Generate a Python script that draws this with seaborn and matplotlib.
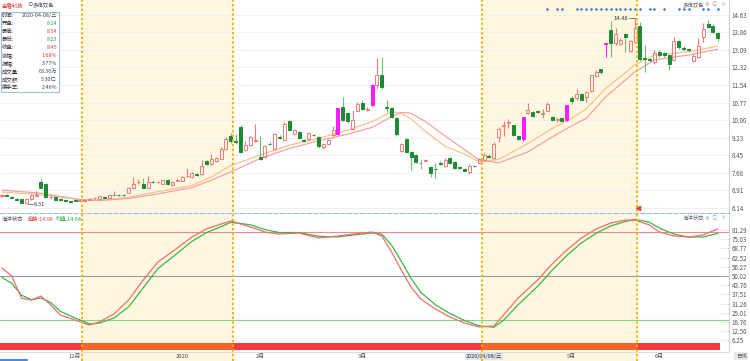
import numpy as np
import seaborn as sns
import matplotlib.pyplot as plt
from matplotlib.lines import Line2D
from matplotlib.patches import Rectangle

# dados diarios (OHLC)
opens = [6.68, 6.72, 6.63, 6.52, 6.52, 6.36, 6.52, 6.68, 7.28, 7.18,
         6.60, 6.62, 6.52, 6.48, 6.43, 6.48, 6.46, 6.43, 6.49, 6.55,
         6.52, 6.61, 6.58, 6.70, 6.72, 6.71, 6.80, 7.00, 7.26, 7.20,
         7.03, 7.29, 7.27, 7.20, 7.35, 7.15, 7.34, 7.33, 7.54, 7.50,
         7.62, 7.62, 8.20, 8.06, 8.20, 8.30, 8.75, 9.30, 9.07, 9.68,
         8.68, 8.90, 9.08, 8.36, 8.38, 8.97, 8.75, 9.26, 9.12, 9.97,
         9.38, 9.47, 9.12, 9.17, 9.35, 9.24, 8.80, 8.97, 9.34, 9.38,
         10.59, 10.30, 9.63, 10.41, 10.75, 10.45, 10.66, 11.54, 11.98, 10.56,
         10.52, 10.08, 8.65, 9.15, 8.60, 8.46, 8.09, 8.22, 7.94, 7.86,
         8.12, 7.98, 8.33, 8.15, 7.92, 7.85, 7.70, 8.00, 8.13, 8.24,
         8.42, 8.35, 9.26, 9.76, 9.89, 9.78, 9.30, 9.19, 10.30, 10.35,
         10.39, 10.29, 10.41, 10.15, 10.02, 10.08, 10.00, 10.98, 10.98, 11.15,
         11.00, 11.30, 11.94, 12.23, 13.36, 13.97, 13.38, 13.36, 13.78, 13.06,
         13.43, 14.14, 12.74, 12.67, 12.57, 12.98, 12.95, 12.87, 12.65, 13.50,
         13.17, 13.12, 12.60, 12.77, 13.67, 14.23, 14.16, 13.82]
highs = [6.76, 6.75, 6.66, 6.55, 6.54, 6.55, 6.74, 6.86, 7.42, 7.22,
         6.70, 6.65, 6.55, 6.52, 6.46, 6.52, 6.50, 6.50, 6.55, 6.61,
         6.67, 6.65, 6.72, 6.90, 6.76, 6.75, 7.06, 7.50, 7.40, 7.45,
         7.55, 7.36, 7.34, 7.38, 7.40, 7.32, 7.45, 7.55, 7.90, 7.72,
         7.68, 8.25, 8.26, 8.50, 8.38, 8.80, 9.25, 9.45, 9.40, 9.80,
         9.10, 9.30, 9.85, 9.30, 8.90, 9.05, 9.45, 9.35, 9.90, 10.02,
         9.62, 9.52, 9.16, 9.46, 9.40, 9.30, 9.00, 9.16, 9.72, 10.55,
         11.03, 10.35, 10.45, 10.78, 10.90, 10.58, 11.58, 12.73, 12.80, 10.90,
         10.60, 10.12, 9.00, 9.20, 8.65, 8.50, 8.30, 8.30, 8.00, 8.10,
         8.20, 8.32, 8.36, 8.18, 7.96, 7.88, 8.05, 8.04, 8.32, 8.54,
         8.50, 9.05, 9.70, 9.95, 10.05, 9.80, 9.33, 10.15, 10.75, 10.40,
         10.45, 10.50, 10.78, 10.20, 10.10, 10.12, 10.68, 11.05, 11.35, 11.20,
         11.28, 12.00, 12.20, 12.26, 13.40, 14.38, 14.05, 13.62, 13.85, 13.55,
         14.48, 14.30, 13.30, 12.72, 13.10, 13.10, 13.00, 12.92, 13.65, 13.55,
         13.25, 13.18, 12.90, 13.60, 14.26, 14.40, 14.22, 13.88]
lows = [6.62, 6.64, 6.55, 6.46, 6.33, 6.31, 6.50, 6.64, 7.00, 6.58,
        6.52, 6.47, 6.46, 6.43, 6.37, 6.43, 6.42, 6.41, 6.47, 6.53,
        6.50, 6.56, 6.56, 6.64, 6.66, 6.66, 6.78, 6.98, 7.20, 7.00,
        7.00, 7.22, 7.22, 7.17, 7.15, 7.12, 7.30, 7.30, 7.48, 7.47,
        7.52, 7.58, 8.02, 8.02, 8.15, 8.27, 8.70, 9.00, 8.95, 8.55,
        8.62, 8.85, 9.02, 8.25, 8.33, 8.90, 8.70, 9.18, 9.08, 9.50,
        9.33, 9.15, 9.04, 9.12, 9.28, 8.78, 8.72, 8.94, 9.30, 9.36,
        9.95, 9.88, 9.58, 10.38, 10.45, 10.40, 10.62, 11.40, 11.35, 10.35,
        10.10, 9.30, 8.60, 8.55, 7.82, 8.10, 7.85, 8.18, 7.50, 7.45,
        8.02, 7.95, 8.05, 7.86, 7.85, 7.74, 7.62, 7.94, 8.10, 8.23,
        8.35, 8.30, 9.05, 9.30, 9.65, 9.30, 9.12, 9.10, 10.25, 10.15,
        10.30, 10.10, 10.38, 9.95, 9.92, 9.95, 9.95, 10.70, 10.90, 10.85,
        10.80, 11.25, 11.90, 12.05, 12.80, 12.77, 13.30, 13.30, 13.00, 13.00,
        13.38, 12.60, 12.10, 12.58, 12.45, 12.80, 12.80, 12.20, 12.60, 13.15,
        13.05, 13.02, 12.55, 12.72, 13.45, 14.05, 13.85, 13.50]
closes = [6.70, 6.67, 6.58, 6.48, 6.36, 6.52, 6.70, 6.70, 7.03, 6.62,
          6.62, 6.50, 6.49, 6.46, 6.40, 6.46, 6.47, 6.48, 6.53, 6.59,
          6.65, 6.59, 6.69, 6.72, 6.70, 6.69, 7.03, 7.18, 7.29, 7.03,
          7.28, 7.27, 7.29, 7.35, 7.18, 7.28, 7.36, 7.50, 7.56, 7.67,
          7.58, 7.97, 8.06, 8.28, 8.33, 8.75, 9.19, 9.09, 9.05, 8.60,
          8.90, 9.26, 9.12, 8.28, 8.85, 8.93, 9.38, 9.22, 9.85, 9.56,
          9.56, 9.20, 9.08, 9.42, 9.33, 8.85, 8.97, 9.13, 9.56, 10.52,
          10.00, 9.95, 10.00, 10.70, 10.50, 10.47, 11.54, 11.98, 11.47, 10.54,
          10.15, 9.38, 8.97, 8.60, 8.38, 8.16, 8.09, 8.25, 7.68, 7.84,
          8.08, 8.24, 8.10, 7.90, 7.88, 7.78, 7.97, 7.97, 8.28, 8.45,
          8.39, 8.97, 9.63, 9.79, 9.91, 9.34, 9.17, 10.12, 10.44, 10.20,
          10.37, 10.31, 10.70, 10.00, 10.05, 9.98, 10.66, 10.84, 11.15, 10.90,
          11.25, 11.98, 12.13, 12.10, 13.40, 13.41, 13.79, 13.55, 13.65, 13.48,
          14.07, 12.68, 12.70, 12.63, 12.94, 12.85, 12.85, 12.47, 13.50, 13.21,
          13.14, 13.08, 12.82, 13.28, 14.00, 14.11, 13.90, 13.60]
magenta_idx = [69, 76, 107, 116, 124]
gray_idx = [86]

# medias (curvas laranja e rosa)
ma_idx = [0, 8, 16, 20, 26, 32, 39, 43, 47, 53, 59, 65, 71, 76, 80, 82, 84, 87,
          91, 95, 98, 102, 108, 113, 117, 120, 124, 130, 134, 141, 147]
ma_curta = [6.83, 6.72, 6.50, 6.48, 6.60, 6.85, 7.12, 7.50, 8.00, 8.46, 8.90, 9.19,
            9.56, 9.93, 10.37, 10.30, 10.05, 9.49, 8.85, 8.50, 8.16, 8.27, 8.97,
            9.63, 10.08, 10.50, 11.40, 12.43, 12.87, 13.01, 13.26]
ma_longa = [6.92, 6.78, 6.50, 6.46, 6.55, 6.75, 7.03, 7.35, 7.72, 8.31, 8.75, 9.09,
            9.38, 9.68, 10.15, 10.34, 10.30, 9.93, 9.30, 8.70, 8.24, 8.12, 8.60,
            9.26, 9.75, 10.08, 11.03, 12.13, 12.65, 12.87, 13.12]

# indicador "海洋状态"
ind_idx = [0, 2, 4, 6, 8, 10, 12, 15, 18, 20, 23, 26, 29, 32, 36, 39, 42, 45, 47,
           51, 54, 57, 61, 65, 69, 72, 76, 78, 80, 82, 84, 86, 89, 92, 95, 98, 101,
           103, 106, 110, 113, 116, 119, 122, 125, 128, 130, 133, 135, 138, 141,
           144, 147]
tendencia = [55.4, 50.0, 35.0, 33.7, 36.4, 30.3, 23.5, 20.1, 16.7, 18.8, 24.2, 33.7,
             47.3, 59.5, 69.0, 76.5, 82.0, 85.3, 87.4, 83.3, 79.9, 78.5, 79.2, 75.8,
             77.2, 78.5, 79.9, 77.2, 66.3, 54.1, 42.5, 34.4, 27.6, 22.1, 18.1, 15.4,
             16.0, 23.5, 35.0, 47.3, 58.2, 67.7, 75.8, 81.9, 86.0, 88.0, 88.0, 84.6,
             79.9, 77.2, 76.5, 77.9, 82.0]
media = [49.0, 45.0, 37.0, 34.0, 35.0, 32.0, 26.0, 21.5, 17.5, 18.0, 21.5, 29.0,
         42.0, 55.0, 65.5, 73.5, 79.5, 83.5, 86.5, 84.8, 81.5, 79.5, 79.5, 77.0,
         76.5, 77.8, 79.2, 78.5, 71.0, 60.0, 48.5, 39.0, 30.5, 24.5, 19.8, 16.2,
         15.2, 20.0, 30.5, 43.0, 54.0, 64.0, 72.5, 79.0, 84.0, 87.0, 88.5, 86.5,
         82.5, 78.5, 76.5, 76.5, 79.0]

sinais_idx = [112, 114, 115, 118, 119, 120, 121, 122, 123, 124, 125, 126, 127, 128,
              129, 130, 131, 133, 134, 136, 139, 140, 141, 144, 145, 147]

yt_preco = ['14.63', '13.86', '13.09', '12.32', '11.54', '10.77', '10.00', '9.23',
            '8.45', '7.68', '6.91', '6.14']
yt_ind = ['81.29', '75.03', '68.77', '62.52', '56.27', '50.02', '43.76', '37.51',
          '31.26', '25.01', '18.76', '12.50', '6.25']
xt_pos = [15, 37, 53, 74, 117, 135]
xt_lab = ['12月', '2020', '2月', '3月', '5月', '6月']
faixas = [(16.5, 47.5), (98.5, 130.5)]

info_lab = ['时间:', '开盘:', '最高:', '最低:', '收盘:', '涨幅:', '振幅:', '成交量:', '成交额:', '换手率:']
info_val = ['2020-04-08/三', '8.24', '8.54', '8.23', '8.45', '1.68%', '3.77%', '63.36万', '5.30亿', '2.46%']

VERMELHO = '#f07a78'
VERDE = '#1c8a36'
MAGENTA = '#ff1aff'
AMARELO = '#fff7e0'

sns.set_style("white")
plt.rcParams['font.family'] = ['Noto Sans CJK SC', 'DejaVu Sans']
plt.rcParams['axes.unicode_minus'] = False

W, H = 750, 361
fig = plt.figure(figsize=(7.5, 3.61), dpi=100)
ax1 = fig.add_axes([0, (H - 213) / H, 729 / W, 213 / H])
ax2 = fig.add_axes([0, (H - 352) / H, 729 / W, 139 / H])
xmin, xmax = -0.41, 149.3

n = len(closes)
idx = np.arange(n)

# fundo amarelo das faixas selecionadas
for a, b in faixas:
    ax1.axvspan(a, b, color=AMARELO, zorder=0, lw=0)
    ax2.axvspan(a, b, color=AMARELO, zorder=0, lw=0)

# candles
for i in idx:
    o, h, l, c = opens[i], highs[i], lows[i], closes[i]
    if i in magenta_idx:
        cor, fundo, pavio = MAGENTA, MAGENTA, MAGENTA
    elif i in gray_idx:
        cor, fundo, pavio = '#999999', '#999999', '#aaaaaa'
    elif c >= o:
        cor, fundo, pavio = VERMELHO, 'none', VERMELHO
    else:
        cor, fundo, pavio = VERDE, VERDE, '#6cbf72'
    topo, base = max(o, c), min(o, c)
    ax1.vlines(i, topo, h, color=pavio, lw=0.8, zorder=3)
    ax1.vlines(i, l, base, color=pavio, lw=0.8, zorder=3)
    ax1.bar(i, max(topo - base, 0.02), bottom=base, width=0.62, facecolor=fundo,
            edgecolor=cor, linewidth=0.7, zorder=4)

sns.lineplot(x=ma_idx, y=ma_curta, ax=ax1, color='#f8c28c', lw=0.9, zorder=2)
sns.lineplot(x=ma_idx, y=ma_longa, ax=ax1, color='#f4a3a3', lw=0.9, zorder=2)

ax1.scatter(sinais_idx, [14.9] * len(sinais_idx), s=3, color='#4a86d8', marker='D', zorder=5, lw=0)

ax1.plot([5.3, 6.3], [6.30, 6.30], color='#666666', lw=0.6, zorder=5)
ax1.text(6.4, 6.30, '6.31', fontsize=4.2, color='#333333', va='center', ha='left', zorder=5)
ax1.plot([128.7, 129.9], [14.48, 14.48], color='#666666', lw=0.6, zorder=5)
ax1.text(128.6, 14.46, '14.48', fontsize=4.2, color='#333333', va='center', ha='right', zorder=5)
ax1.plot([130.6], [6.12], marker='<', color='#e53935', ms=3, zorder=5)

ax1.set_xlim(xmin, xmax)
ax1.set_ylim(5.91, 15.29)
ax1.set_yticks([float(t) for t in yt_preco])
ax1.set_yticklabels(yt_preco)
ax1.yaxis.tick_right()
ax1.set_xticks([])
ax1.grid(axis='y', color='#efefef', lw=0.6)
ax1.tick_params(axis='y', length=0, pad=2, labelsize=4.5, labelcolor='#555555')
for s in ['top', 'bottom', 'left']:
    ax1.spines[s].set_visible(False)
ax1.spines['right'].set_color('#d0d0d0')
ax1.spines['right'].set_linewidth(0.8)

# painel do indicador
ax2.axhline(80, color='#f08a8a', lw=0.8, zorder=1)
ax2.axhline(50, color='#999999', lw=0.8, zorder=1)
ax2.axhline(20, color='#86d486', lw=0.8, zorder=1)
sns.lineplot(x=ind_idx, y=media, ax=ax2, color='#3cb44b', lw=0.9, zorder=3)
sns.lineplot(x=ind_idx, y=tendencia, ax=ax2, color='#f26d6d', lw=0.9, zorder=3)
ax2.fill_between([idx[0] - 0.5, idx[-1] + 0.5], -0.3, 4.7, color='#f43a3a', lw=0, zorder=2)
for a, b in faixas:
    ax2.axvspan(a, b, ymin=0.0138, ymax=0.0667, color='#ffc000', alpha=0.3, lw=0, zorder=2.5)
ax2.hlines([float(t) for t in yt_ind], idx[-1] + 0.6, xmax, colors='#bbbbbb', linestyles=':', lw=0.6)

ax2.set_xlim(xmin, xmax)
ax2.set_ylim(-1.6, 92.8)
ax2.set_yticks([float(t) for t in yt_ind])
ax2.set_yticklabels(yt_ind)
ax2.yaxis.tick_right()
ax2.set_xticks(xt_pos)
ax2.set_xticklabels(xt_lab)
ax2.tick_params(axis='y', length=0, pad=2, labelsize=4.5, labelcolor='#555555')
ax2.tick_params(axis='x', length=0, pad=1.2, labelsize=4.2, labelcolor='#444444')
ax2.spines['left'].set_visible(False)
ax2.spines['top'].set_color('#9cc3e6')
ax2.spines['top'].set_linestyle((0, (4, 2)))
ax2.spines['top'].set_linewidth(0.8)
ax2.spines['bottom'].set_color('#dddddd')
ax2.spines['right'].set_color('#d0d0d0')
ax2.spines['right'].set_linewidth(0.8)
ax2.text(99, -0.012, '2020/04/08/三', transform=ax2.get_xaxis_transform(), fontsize=4,
         ha='center', va='top', color='#333333',
         bbox=dict(boxstyle='square,pad=0.12', facecolor='#dfe6f0', edgecolor='none'))


# posicoes das faixas em fracao da figura
def fx(b):
    return (b - xmin) / (xmax - xmin) * 729 / W


for a, b in faixas:
    fig.add_artist(Rectangle((fx(a), 0), fx(b) - fx(a), 9 / H, transform=fig.transFigure,
                             facecolor=AMARELO, edgecolor='none', zorder=-1))
    for v in (a, b):
        fig.add_artist(Line2D([fx(v), fx(v)], [0, 1], transform=fig.transFigure,
                              color='#f7b500', lw=1.4, ls=(0, (1.2, 1.2)), zorder=15))

# textos do topo
FS = 3.9
fig.text(2 / W, 1 - 5 / H, '金盾科技', fontsize=FS, color='#e03030', va='center')
fig.text(27 / W, 1 - 5 / H, '⊙', fontsize=FS, color='#555555', va='center')
fig.text(33 / W, 1 - 5 / H, '多维双色', fontsize=FS, color='#555555', va='center')
fig.text(683 / W, 1 - 5 / H, '多维双色', fontsize=FS, color='#666666', va='center')
fig.text(706 / W, 1 - 218 / H, '', fontsize=FS)
for xx, ic in [(707, '⚙'), (714, 'ⓘ'), (723, '×')]:
    fig.text(xx / W, 1 - 5 / H, ic, fontsize=FS, color='#999999', va='center', ha='center')
    fig.text(xx / W, 1 - 218 / H, ic, fontsize=FS, color='#999999', va='center', ha='center')
fig.text(2 / W, 1 - 219 / H, '海洋状态', fontsize=FS, color='#555555', va='center')
fig.text(28 / W, 1 - 219 / H, '趋势:14.96', fontsize=FS, color='#e04040', va='center')
fig.text(56 / W, 1 - 219 / H, '均值:14.64', fontsize=FS, color='#2aa040', va='center')
fig.text(683 / W, 1 - 218 / H, '海洋状态', fontsize=FS, color='#666666', va='center')
fig.text(741 / W, 1 - 356 / H, '日线', fontsize=FS, color='#555555', va='center', ha='center',
         bbox=dict(boxstyle='square,pad=0.25', facecolor='#e8e8e8', edgecolor='none'))
fig.add_artist(Line2D([0, 27 / W], [0.8 / H, 0.8 / H], transform=fig.transFigure,
                      color='#4a86e8', lw=1.5, zorder=15))

# caixa de informacoes
fig.add_artist(Rectangle((0.5 / W, 1 - 92 / H), 58 / W, 80.5 / H, transform=fig.transFigure,
                         facecolor='white', edgecolor='#9ec0e6', lw=0.8, zorder=20))
cores_val = ['#444444', '#2aa040', '#e04040', '#2aa040', '#e04040', '#e04040',
             '#444444', '#444444', '#444444', '#444444']
for k in range(len(info_lab)):
    yy = 1 - (15.7 + 8 * k) / H
    fig.text(2 / W, yy, info_lab[k], fontsize=FS, color='#333333', va='center', zorder=21)
    fig.text(57 / W, yy, info_val[k], fontsize=FS, color=cores_val[k], va='center',
             ha='right', zorder=21)

fig.savefig('out.png', dpi=100)
